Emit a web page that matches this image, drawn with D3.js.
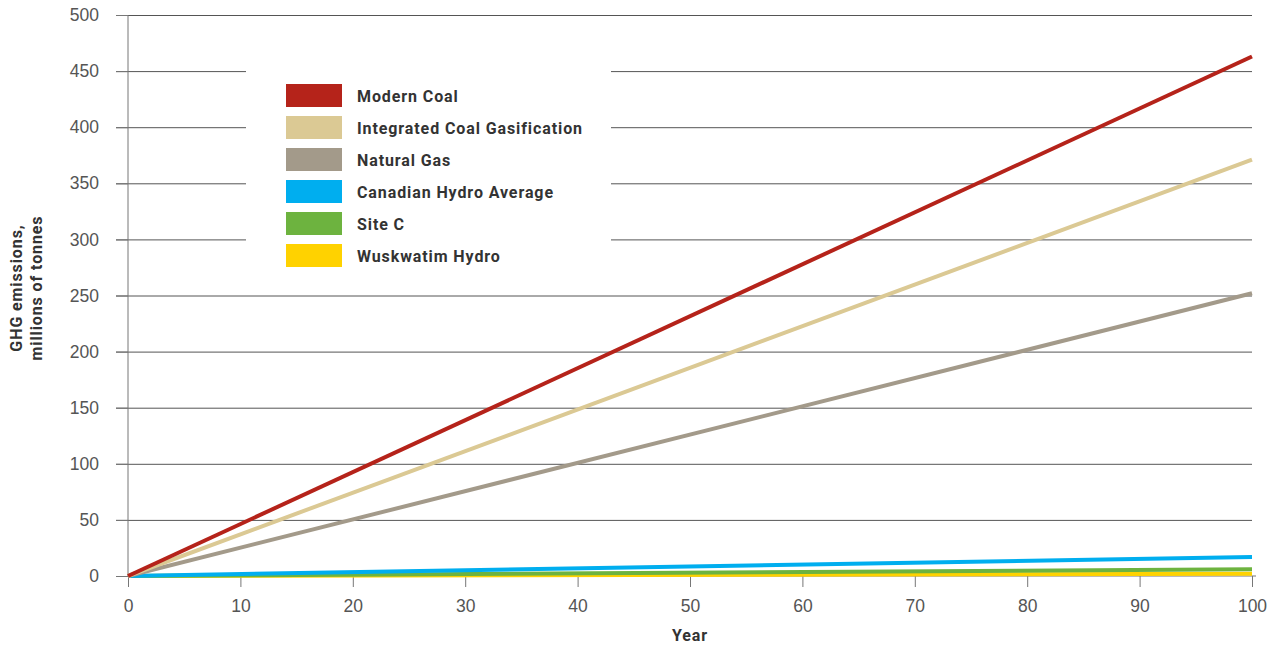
<!DOCTYPE html>
<html>
<head>
<meta charset="utf-8">
<script src="https://cdn.jsdelivr.net/npm/d3@7"></script>
<style>
  body { margin: 0; background: #fff; }
  svg { font-family: Roboto, "Noto Sans", sans-serif; }
  .axis text { fill: #555; font-size: 17.5px; font-weight: 300; }
  .axis path, .axis line { stroke: #777; }
  .grid line { stroke: #555; stroke-width: 1px; }
  .grid path { stroke-width: 0; }
  .legend text { fill: #333; font-size: 16px; font-weight: bold; letter-spacing: 0.9px; }
  .title { fill: #333; font-size: 16px; font-weight: bold; letter-spacing: 0.9px; }
</style>
</head>
<body>
<div id="chart"></div>
<script>
// years and emissions (millions of tonnes)
var years = [0, 100];
var seriesNames = ["Modern Coal", "Integrated Coal Gasification", "Natural Gas",
  "Canadian Hydro Average", "Site C", "Wuskwatim Hydro"];
var modernCoal = [0, 463];
var coalGasification = [0, 371];
var naturalGas = [0, 252];
var canadianHydro = [0, 17];
var siteC = [0, 6];
var wuskwatim = [0, 2];
var colors = ["#b5231a", "#dbc994", "#a39a8a", "#00aeef", "#6db33f", "#ffd200"];
var yTicks = d3.range(0, 501, 50);
var xTicks = d3.range(0, 101, 10);

var allSeries = [modernCoal, coalGasification, naturalGas, canadianHydro, siteC, wuskwatim];

var width = 1277, height = 647;
var m = { top: 15, right: 25, bottom: 71, left: 128 };

var svg = d3.select("#chart").append("svg")
  .attr("width", width)
  .attr("height", height);

var x = d3.scaleLinear().domain([0, 100]).range([m.left, width - m.right]);
var y = d3.scaleLinear().domain([0, 500]).range([height - m.bottom, m.top]);

// horizontal grid
svg.append("g")
  .attr("class", "grid")
  .attr("transform", "translate(" + (m.left - 12) + ",0)")
  .call(d3.axisRight(y).tickValues(yTicks.slice(1)).tickSize(x(100) - m.left + 12).tickFormat(""));

// legend background hides the grid behind it
svg.append("rect")
  .attr("x", 246).attr("y", 55)
  .attr("width", 365).attr("height", 228)
  .attr("fill", "#fff");

// y axis
var yAxis = svg.append("g")
  .attr("class", "y axis")
  .attr("transform", "translate(" + m.left + ",0)")
  .call(d3.axisLeft(y).tickValues(yTicks).tickSize(12).tickPadding(17));
yAxis.select(".domain").attr("d", "M0," + y(500) + "V" + y(0));

// x axis
var xAxis = svg.append("g")
  .attr("class", "x axis")
  .attr("transform", "translate(0," + y(0) + ")")
  .call(d3.axisBottom(x).tickValues(xTicks).tickSize(11).tickPadding(13));
xAxis.select(".domain").attr("d", "M" + x(0) + ",0H" + (x(100) + 4));

// lines
var line = d3.line()
  .x(function(d, i) { return x(years[i]); })
  .y(function(d) { return y(d); });

svg.append("g")
  .selectAll("path")
  .data(allSeries.slice().reverse())
  .enter()
  .append("path")
  .attr("d", line)
  .attr("fill", "none")
  .attr("stroke", function(d, i) { return colors[allSeries.length - 1 - i]; })
  .attr("stroke-width", 4);

// legend
var legend = svg.append("g")
  .attr("class", "legend")
  .selectAll("g")
  .data(seriesNames)
  .enter()
  .append("g")
  .attr("transform", function(d, i) { return "translate(286," + (84 + i * 32) + ")"; });
legend.append("rect")
  .attr("width", 56).attr("height", 23)
  .attr("fill", function(d, i) { return colors[i]; });
legend.append("text")
  .attr("x", 71).attr("y", 12)
  .attr("dy", "0.35em")
  .text(function(d) { return d; });

// axis titles
svg.append("text")
  .attr("class", "title")
  .attr("x", x(50)).attr("y", 641)
  .attr("text-anchor", "middle")
  .text("Year");

var yt = svg.append("text")
  .attr("class", "title")
  .attr("transform", "translate(0," + 288 + ") rotate(-90)")
  .attr("text-anchor", "middle");
yt.append("tspan").attr("x", 0).attr("y", 22).text("GHG emissions,");
yt.append("tspan").attr("x", 0).attr("y", 42).text("millions of tonnes");
</script>
</body>
</html>
